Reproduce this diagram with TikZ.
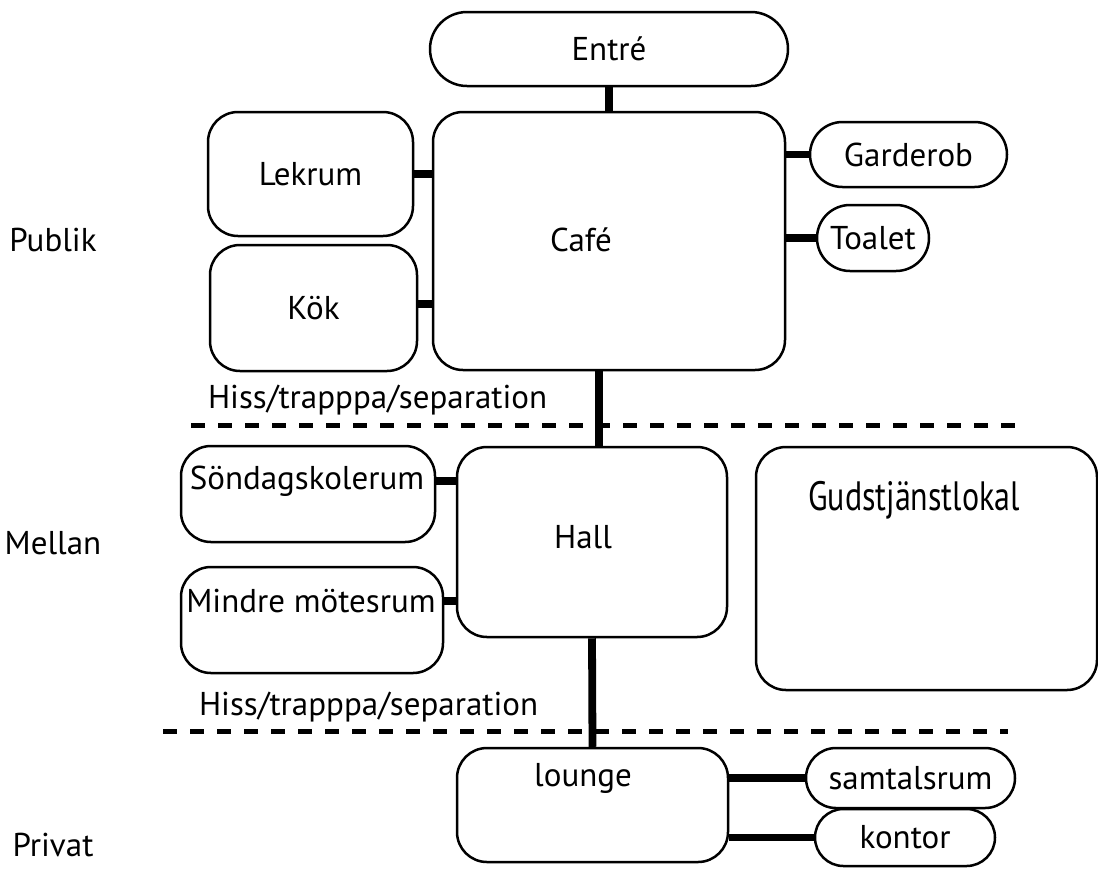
\documentclass[tikz,border=0pt]{standalone}
\usepackage{fontspec}
\setmainfont{PT Sans}
\usetikzlibrary{calc}

\begin{document}
\begin{tikzpicture}[x=0.5pt,y=-0.5pt,
  every node/.style={font=\fontsize{16.5}{20}\selectfont},
  room/.style={draw,line width=1.25pt,rounded corners=15pt,inner sep=0pt},
  pill/.style={draw,line width=1.25pt,inner sep=0pt,minimum height=#1,rounded corners=#1/2},
  link/.style={line width=3.9pt},
  sep line/.style={line width=2.5pt,dash pattern=on 7pt off 6.5pt}]
  \useasboundingbox (0,0) rectangle (1098,890);

  % levels
  \node (publik) at (53,240) {Publik};
  \node (mellan) at (53,543) {Mellan};
  \node (privat) at (53,845) {Privat};

  % public floor
  \node[pill=37pt,minimum width=179pt] (entre) at (609,49) {Entré};
  \node[room,minimum width=176pt,minimum height=129pt] (cafe) at (609,241) {};
  \node (cafe-t) at (581,240) {Café};
  \node[room,minimum width=102.5pt,minimum height=62pt] (lekrum) at (310.5,174) {Lekrum};
  \node[room,minimum width=103.5pt,minimum height=63pt] (kok) at (313.5,308) {Kök};
  \node[pill=32.5pt,minimum width=98.5pt] (garderob) at (908.5,154.5) {Garderob};
  \node[pill=33pt,minimum width=56pt] (toalet) at (873,238) {Toalet};

  \node[anchor=west] (hiss1) at (201,400) {Hiss/trapppa/separation};
  \draw[sep line] (191,425) -- (1020,425);

  % middle floor
  \node[room,minimum width=135pt,minimum height=95pt] (hall) at (592,542) {};
  \node (hall-t) at (583,537) {Hall};
  \node[room,minimum width=127pt,minimum height=48pt] (sond) at (308,494) {};
  \node (sond-t) at (307,481) {Söndagskolerum};
  \node[room,minimum width=131pt,minimum height=53pt] (mindre) at (312,620) {};
  \node (mindre-t) at (311,601) {Mindre mötesrum};
  \node[room,minimum width=170.5pt,minimum height=121.5pt] (gud) at (926.5,568.5) {};
  \node[font=\fontsize{20.5}{24}\selectfont] (gud-t) at (914,500) {\scalebox{0.78}[1]{Gudstjänstlokal}};

  \node[anchor=west] (hiss2) at (192,707) {Hiss/trapppa/separation};
  \draw[sep line] (163,731) -- (1008,731);

  % private floor
  \node[room,minimum width=135.5pt,minimum height=57pt] (lounge) at (592.5,805) {};
  \node (lounge-t) at (583,778) {lounge};
  \node[pill=30pt,minimum width=104.5pt] (samtal) at (910.5,778) {samtalsrum};
  \node[pill=28.5pt,minimum width=90pt] (kontor) at (905,837.5) {kontor};

  % connections
  \draw[link] (entre.south) -- (entre.south |- cafe.north);
  \draw[link] (lekrum.east) -- (lekrum.east -| cafe.west);
  \draw[link] ([yshift=2pt]kok.east) -- ([yshift=2pt]kok.east -| cafe.west);
  \draw[link] (garderob.west -| cafe.east) -- (garderob.west);
  \draw[link] (toalet.west -| cafe.east) -- (toalet.west);
  \draw[link] ([xshift=-5pt]cafe.south) -- ([xshift=-5pt]cafe.south |- hall.north);
  \draw[link] (sond-t -| sond.east) -- (sond-t -| hall.west);
  \draw[link] (mindre-t -| mindre.east) -- (mindre-t -| hall.west);
  \draw[link] ($(gud.north west)!0.27!(gud.south west)$) -- ($(gud.north west)!0.27!(gud.south west)$ -| hall.east);
  \draw[link] (hall.south) -- (lounge.north);
  \draw[link] (samtal.west -| lounge.east) -- (samtal.west);
  \draw[link] (kontor.west -| lounge.east) -- (kontor.west);
\end{tikzpicture}
\end{document}
